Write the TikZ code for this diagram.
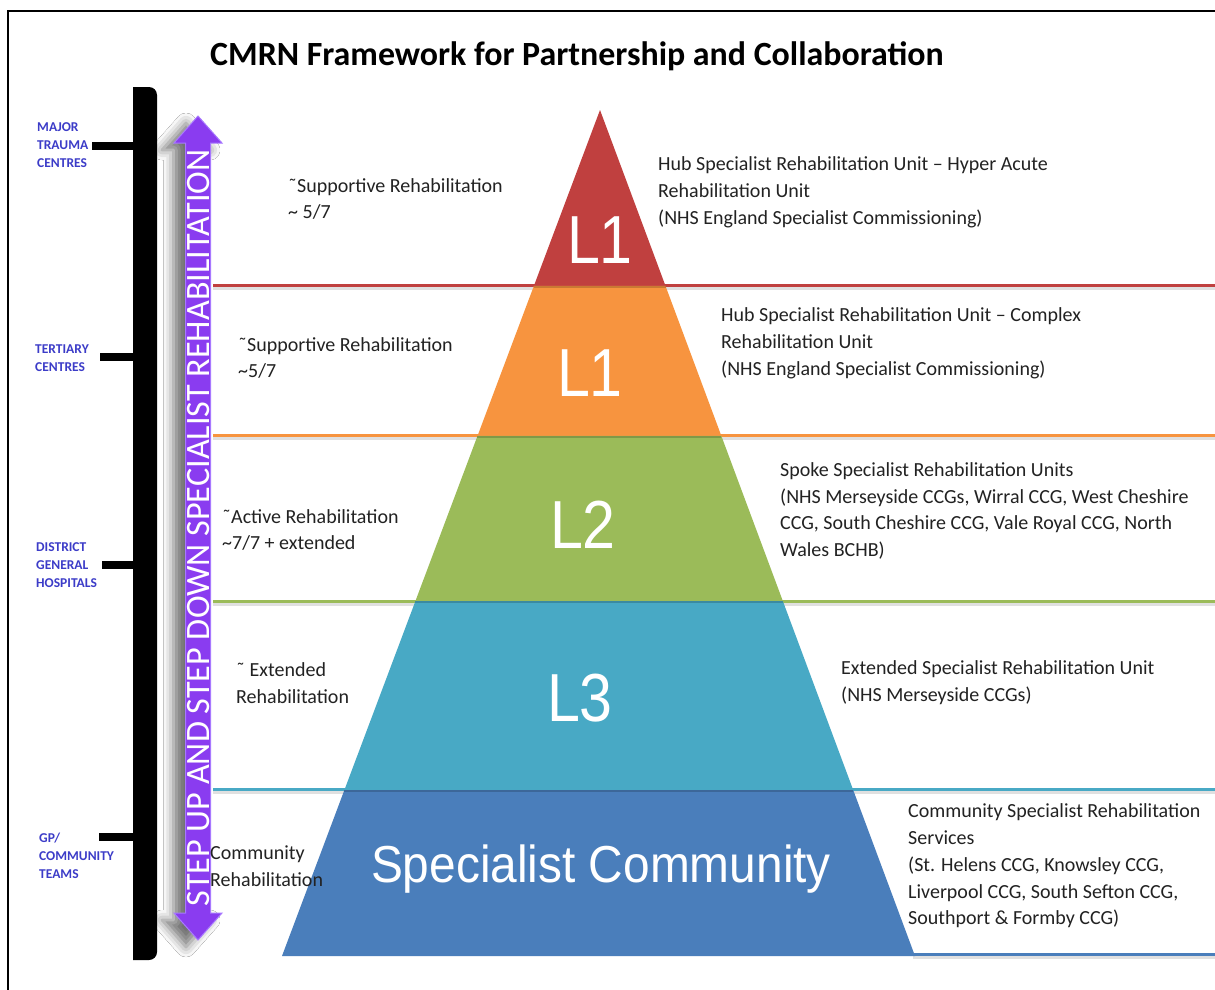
\documentclass[tikz,border=0pt]{standalone}
\usepackage{fontspec}
\setmainfont{Carlito}
\newfontfamily\arialf{Liberation Sans}
\usetikzlibrary{calc,shadows.blur}

\definecolor{lvred}{HTML}{C0403F}
\definecolor{lvorange}{HTML}{F7943F}
\definecolor{lvgreen}{HTML}{9BBB59}
\definecolor{lvteal}{HTML}{48A9C5}
\definecolor{lvblue}{HTML}{4A7EBB}
\definecolor{arrowpurple}{HTML}{8A3CF0}
\definecolor{arrowrim}{HTML}{A878FF}
\definecolor{sitecol}{HTML}{3C3CC8}
\definecolor{bodytext}{HTML}{222222}

\begin{document}
\begin{tikzpicture}[x=1pt,y=-1pt,
  desc/.style={font=\fontsize{20}{26.8}\selectfont, text=bodytext, align=left, inner sep=0pt, anchor=west},
  site/.style={font=\fontsize{13.5}{18}\selectfont\bfseries, text=sitecol, align=left, inner sep=0pt, anchor=west},
  lvl/.style={text=white, inner sep=0pt, font=\arialf\fontsize{68}{68}\selectfont},
  tierline/.style={line width=3pt},
  tiershadow/.style={line width=3pt, black, opacity=0.12},
  tick/.style={line width=8pt, line cap=butt},
]
\useasboundingbox (0,0) rectangle (1215,989);
\fill[white] (0,0) rectangle (1215,989);

% outer frame
\draw[line width=2pt] (8,1000) -- (8,11) -- (1230,11);

% title
\node[font=\fontsize{33.9}{36}\selectfont\bfseries, anchor=base west, inner sep=0pt] (title) at (210,65)
  {CMRN Framework for Partnership and Collaboration};

% care-setting scale: black bar with ticks
\fill (133,87) -- (149,87) arc[start angle=-90, end angle=0, radius=8]
  -- (157,952) arc[start angle=0, end angle=90, radius=8] -- (133,960) -- cycle;
\draw[tick] (92,146) -- (133,146);
\draw[tick] (100,357) -- (133,357);
\draw[tick] (102,565) -- (133,565);
\draw[tick] (99,837) -- (133,837);

\node[site] (mtc) at (37,145.5) {MAJOR\\TRAUMA\\CENTRES};
\node[site] (tc) at (35,358) {TERTIARY\\CENTRES};
\node[site] (dgh) at (36,565.5) {DISTRICT\\GENERAL\\HOSPITALS};
\node[site] (gp) at (39,856) {GP/\\COMMUNITY\\TEAMS};

% tier separator lines
\foreach \yy/\cc in {285/lvred, 435/lvorange, 601/lvgreen, 789/lvteal}{
  \draw[tiershadow] (213,\yy+3) -- (1215,\yy+3);
  \draw[tierline, \cc] (213,\yy) -- (1215,\yy);
}
\draw[tiershadow] (913,957) -- (1215,957);
\draw[tierline, lvblue] (913,954) -- (1215,954);

% pyramid
\coordinate (apex) at (600,110);
\coordinate (bl) at (282,956);
\coordinate (br) at (915,956);
\coordinate (l1) at ($(apex)!0.208!(bl)$);
\coordinate (r1) at ($(apex)!0.208!(br)$);
\coordinate (l2) at ($(apex)!0.3853!(bl)$);
\coordinate (r2) at ($(apex)!0.3853!(br)$);
\coordinate (l3) at ($(apex)!0.5804!(bl)$);
\coordinate (r3) at ($(apex)!0.5804!(br)$);
\coordinate (l4) at ($(apex)!0.8038!(bl)$);
\coordinate (r4) at ($(apex)!0.8038!(br)$);

\fill[lvred] (apex) -- (r1) -- (l1) -- cycle;
\fill[lvorange] (l1) -- (r1) -- (r2) -- (l2) -- cycle;
\fill[lvgreen] (l2) -- (r2) -- (r3) -- (l3) -- cycle;
\fill[lvteal] (l3) -- (r3) -- (r4) -- (l4) -- cycle;
\fill[lvblue] (l4) -- (r4) -- (br) -- (bl) -- cycle;
\foreach \a/\b in {l1/r1, l2/r2, l3/r3, l4/r4}{
  \draw[black, opacity=0.18, line width=2pt] ($(\a)+(0,1)$) -- ($(\b)+(0,1)$);
}

\node[lvl] (t1) at (600,240) {\scalebox{0.87}[1]{L1}};
\node[lvl] (t2) at (590,373) {\scalebox{0.87}[1]{L1}};
\node[lvl] (t3) at (583,525) {\scalebox{0.87}[1]{L2}};
\node[lvl] (t4) at (580,698) {\scalebox{0.87}[1]{L3}};
\node[text=white, inner sep=0pt, font=\arialf\fontsize{52}{52}\selectfont] (t5) at (601,869)
  {\scalebox{0.92}[1]{Specialist Community}};

% step up / step down arrow
\path[fill=arrowpurple, draw=arrowrim, line width=1pt,
      blur shadow={shadow xshift=-12pt, shadow yshift=-7pt, shadow blur radius=10pt, shadow opacity=55}]
  (198,116) -- (222,143) -- (210.5,143) -- (210.5,913) -- (222,913) -- (198,940)
  -- (174,913) -- (185.5,913) -- (185.5,143) -- (174,143) -- cycle;
\node[rotate=90, text=white, inner sep=0pt, font=\fontsize{34.2}{34}\selectfont] (step) at (198.5,528)
  {STEP UP AND STEP DOWN SPECIALIST REHABILITATION};

% regime of rehabilitation (left)
\node[desc] (reg1) at (288,199) {˜Supportive Rehabilitation\\\textasciitilde{} 5/7};
\node[desc] (reg2) at (238,358) {˜Supportive Rehabilitation\\\textasciitilde5/7};
\node[desc] (reg3) at (222,530) {˜Active Rehabilitation\\\textasciitilde7/7 + extended};
\node[desc] (reg4) at (236,683) {˜ Extended\\Rehabilitation};
\node[desc] (reg5) at (210,866) {Community\\Rehabilitation};

% service descriptions (right)
\node[desc] (svc1) at (658,192) {Hub Specialist Rehabilitation Unit – Hyper Acute\\Rehabilitation Unit\\(NHS England Specialist Commissioning)};
\node[desc] (svc2) at (721,343) {Hub Specialist Rehabilitation Unit – Complex\\Rehabilitation Unit\\(NHS England Specialist Commissioning)};
\node[desc] (svc3) at (780,511) {Spoke Specialist Rehabilitation Units\\(NHS Merseyside CCGs, Wirral CCG, West Cheshire\\CCG, South Cheshire CCG, Vale Royal CCG, North\\Wales BCHB)};
\node[desc] (svc4) at (841,683) {Extended Specialist Rehabilitation Unit\\(NHS Merseyside CCGs)};
\node[desc] (svc5) at (908,866) {Community Specialist Rehabilitation\\Services\\(St. Helens CCG, Knowsley CCG,\\Liverpool CCG, South Sefton CCG,\\Southport \& Formby CCG)};
\end{tikzpicture}
\end{document}
